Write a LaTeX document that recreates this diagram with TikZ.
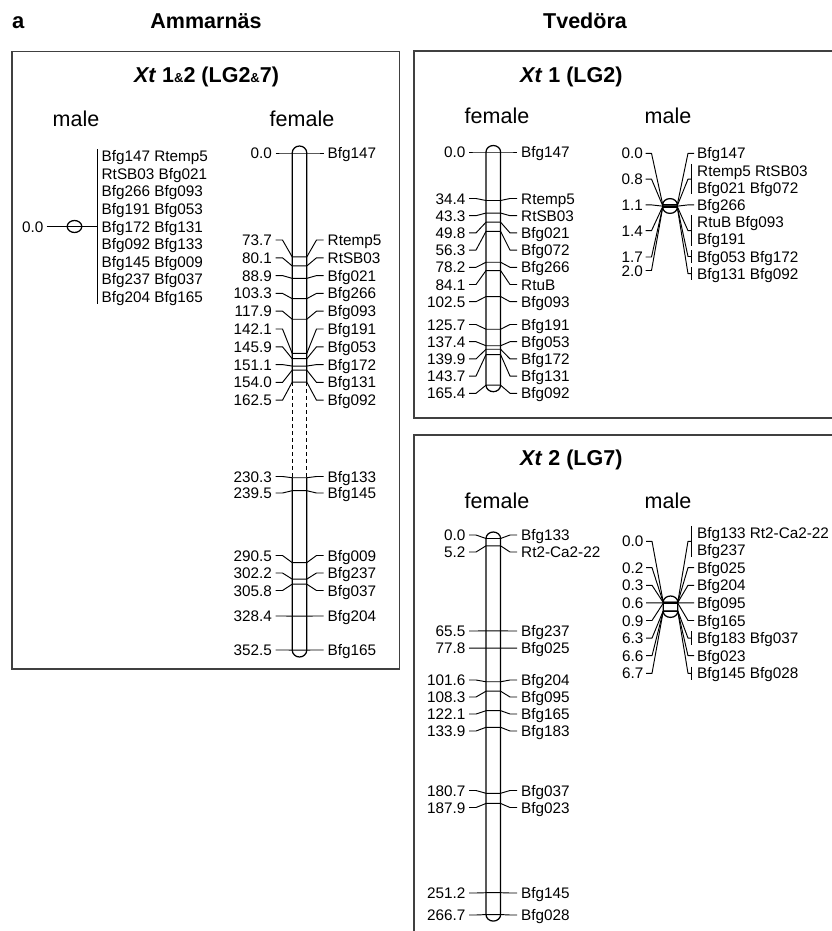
\documentclass[tikz,border=0pt]{standalone}
\usepackage{fontspec}
\setmainfont{Liberation Sans}
\usetikzlibrary{calc}

% chromosome caps: centre x, y of the end marker, cap height
\newcommand{\topcap}[3]{.. controls (#1-7.3,#2-0.55*#3) and (#1-4,#2-#3) .. (#1,#2-#3) .. controls (#1+4,#2-#3) and (#1+7.3,#2-0.55*#3) .. (#1+7.3,#2)}
\newcommand{\botcap}[3]{.. controls (#1+7.3,#2+0.55*#3) and (#1+4,#2+#3) .. (#1,#2+#3) .. controls (#1-4,#2+#3) and (#1-7.3,#2+0.55*#3) .. (#1-7.3,#2)}
\newcommand{\chromo}[4]{\draw[chrom] (#1-7.3,#3) -- (#1-7.3,#2) \topcap{#1}{#2}{#4} -- (#1+7.3,#3) \botcap{#1}{#3}{#4} -- cycle;}
\newcommand{\smallamp}{{\fontsize{13}{13}\selectfont\&}}

\tikzset{
  num/.style={font=\fontsize{15.3}{17}\selectfont, inner xsep=0pt, inner ysep=1pt, text height=11pt, text depth=0pt},
  loc/.style={num},
  ttl/.style={font=\fontsize{21.5}{24}\selectfont\bfseries, inner sep=0pt, anchor=base},
  sex/.style={font=\fontsize{21.5}{24}\selectfont, inner sep=0pt, anchor=base},
  chrom/.style={line width=1.25pt, line join=round},
  link/.style={line width=0.95pt, line join=round},
  frame/.style={line width=1.4pt, draw=black!75}
}

\begin{document}
\begin{tikzpicture}[x=1pt,y=-1pt]
\useasboundingbox (0,0) rectangle (832,931);

% headings and frames
\node[ttl, anchor=base west, font=\fontsize{22}{24}\selectfont\bfseries] (pa) at (12,28.3) {a};
\node[ttl] (amm) at (206,28.3) {Ammarnäs};
\node[ttl] (tve) at (585,28.3) {Tvedöra};
\draw[frame] (12,51.5) rectangle (399.5,669);
\draw[frame] (832,51) -- (414,51) -- (414,418) -- (832,418);
\draw[frame] (832,435) -- (414,435) -- (414,931);
\node[ttl] (t12) at (206.5,82.5) {\textit{Xt} 1\smallamp2 (LG2\smallamp7)};
\node[ttl, anchor=base west] (t1) at (520,82.5) {\textit{Xt} 1 (LG2)};
\node[ttl, anchor=base west] (t2) at (520,465) {\textit{Xt} 2 (LG7)};
\node[sex] (m12) at (76,127) {male};
\node[sex] (f12) at (302,127) {female};
\node[sex] (f1) at (497,124) {female};
\node[sex] (m1) at (668,124) {male};
\node[sex] (f2) at (497,508) {female};
\node[sex] (m2) at (668,508) {male};

% Ammarnas male
\chromo{74.5}{226.5}{226.5}{6}
\node[num, anchor=east] (am0) at (43.5,226.5) {0.0};
\foreach \nm [count=\i] in {Bfg147 Rtemp5, RtSB03 Bfg021, Bfg266 Bfg093, Bfg191 Bfg053, Bfg172 Bfg131, Bfg092 Bfg133, Bfg145 Bfg009, Bfg237 Bfg037, Bfg204 Bfg165}
  \node[loc, anchor=west] (amr\i) at (101.5,{226.5+17.6*(\i-5)}) {\nm};
\draw[link] ([xshift=-4.5pt]amr1.north west) -- ([xshift=-4.5pt]amr9.south west);
\draw[link] ([xshift=3pt]am0.east) -- ([xshift=-4.5pt]amr5.west);

% Ammarnas female
\draw[chrom] (292.2,382.1) -- (292.2,153) \topcap{299.5}{153}{7} -- (306.8,382.1);
\draw[chrom, dash pattern=on 4pt off 3pt] (292.2,382.1) -- (292.2,477.7) (306.8,382.1) -- (306.8,477.7);
\draw[chrom] (306.8,477.7) -- (306.8,650) \botcap{299.5}{650}{7} -- (292.2,477.7);
\foreach \cm/\ly/\nm [count=\i] in {0.0/153/Bfg147, 73.7/240/Rtemp5, 80.1/257.8/RtSB03, 88.9/275.6/Bfg021, 103.3/293.4/Bfg266, 117.9/311.2/Bfg093, 142.1/329/Bfg191, 145.9/346.8/Bfg053, 151.1/364.6/Bfg172, 154.0/382.4/Bfg131, 162.5/400.2/Bfg092, 230.3/476.5/Bfg133, 239.5/493/Bfg145, 290.5/555.5/Bfg009, 302.2/573/Bfg237, 305.8/590.5/Bfg037, 328.4/616/Bfg204, 352.5/650/Bfg165}{
  \node[num, anchor=east] (afl\i) at (272,\ly) {\cm};
  \node[loc, anchor=west] (afr\i) at (327.5,\ly) {\nm};
  \draw[link] ([xshift=3.5pt]afl\i.east) -- ++(7,0) -- (292.2,153+1.41*\cm) -- (306.8,153+1.41*\cm) -- ([xshift=-11pt]afr\i.west) -- ++(7,0);
}

% Tvedora LG2 female
\chromo{493.3}{152}{385.2}{6.5}
\foreach \cm/\ly/\nm [count=\i] in {0.0/152/Bfg147, 34.4/198.5/Rtemp5, 43.3/215.7/RtSB03, 49.8/232.9/Bfg021, 56.3/250.1/Bfg072, 78.2/267.3/Bfg266, 84.1/284.5/RtuB, 102.5/301.7/Bfg093, 125.7/324.5/Bfg191, 137.4/341.7/Bfg053, 139.9/358.9/Bfg172, 143.7/376.1/Bfg131, 165.4/393.3/Bfg092}{
  \node[num, anchor=east] (tfl\i) at (465.5,\ly) {\cm};
  \node[loc, anchor=west] (tfr\i) at (521,\ly) {\nm};
  \draw[link] ([xshift=3.5pt]tfl\i.east) -- ++(7,0) -- (486,152+1.41*\cm) -- (500.6,152+1.41*\cm) -- ([xshift=-11pt]tfr\i.west) -- ++(7,0);
}

% Tvedora LG2 male
\chromo{670}{204.6}{207.4}{6}
\foreach \cm/\ly [count=\i] in {0.0/153.3, 0.8/179.1, 1.1/204.9, 1.4/230.7, 1.7/257, 2.0/270.5}{
  \node[num, anchor=east] (tml\i) at (643,\ly) {\cm};
  \draw[link] ([xshift=2.5pt]tml\i.east) -- ++(6,0) -- (662.7,204.6+1.41*\cm) -- (677.3,204.6+1.41*\cm);
}
\foreach \ry/\nm [count=\i] in {153.3/Bfg147, 170.5/Rtemp5 RtSB03, 187.7/Bfg021 Bfg072, 204.9/Bfg266, 222.1/RtuB Bfg093, 239.3/Bfg191, 256.5/Bfg053 Bfg172, 273.7/Bfg131 Bfg092}
  \node[loc, anchor=west] (tmr\i) at (697,\ry) {\nm};
\foreach \cm/\i in {0.0/1, 1.1/4}
  \draw[link] (677.3,204.6+1.41*\cm) -- ([xshift=-9pt]tmr\i.west) -- ([xshift=-3pt]tmr\i.west);
\foreach \cm/\a/\b in {0.8/2/3, 1.4/5/6, 1.7/7/7, 2.0/8/8}{
  \draw[link] ([xshift=-5.5pt]tmr\a.north west) -- ([xshift=-5.5pt]tmr\b.south west);
  \draw[link] (677.3,204.6+1.41*\cm) -- ($(tmr\a.west)!.5!(tmr\b.west)+(-9,0)$) -- ++(3.5,0);
}

% Tvedora LG7 female
\chromo{493.3}{538.5}{914.6}{6.5}
\foreach \cm/\ly/\nm [count=\i] in {0.0/535/Bfg133, 5.2/552/Rt2-Ca2-22, 65.5/631/Bfg237, 77.8/648.2/Bfg025, 101.6/680/Bfg204, 108.3/697/Bfg095, 122.1/714/Bfg165, 133.9/731/Bfg183, 180.7/790.5/Bfg037, 187.9/807.5/Bfg023, 251.2/893/Bfg145, 266.7/915/Bfg028}{
  \node[num, anchor=east] (sfl\i) at (465.5,\ly) {\cm};
  \node[loc, anchor=west] (sfr\i) at (521,\ly) {\nm};
  \draw[link] ([xshift=3.5pt]sfl\i.east) -- ++(7,0) -- (486,538.5+1.41*\cm) -- (500.6,538.5+1.41*\cm) -- ([xshift=-11pt]sfr\i.west) -- ++(7,0);
}

% Tvedora LG7 male
\chromo{670.5}{602}{611.4}{6}
\foreach \cm/\ly [count=\i] in {0.0/541.3, 0.2/567.7, 0.3/585.3, 0.6/602.9, 0.9/620.5, 6.3/638.1, 6.6/655.7, 6.7/673.3}{
  \node[num, anchor=east] (sml\i) at (643.5,\ly) {\cm};
  \draw[link] ([xshift=2.5pt]sml\i.east) -- ++(6,0) -- (663.2,602+1.41*\cm) -- (677.8,602+1.41*\cm);
}
\foreach \ry/\nm [count=\i] in {532.5/Bfg133 Rt2-Ca2-22, 550.1/Bfg237, 567.7/Bfg025, 585.3/Bfg204, 602.9/Bfg095, 620.5/Bfg165, 638.1/Bfg183 Bfg037, 655.7/Bfg023, 673.3/Bfg145 Bfg028}
  \node[loc, anchor=west] (smr\i) at (697,\ry) {\nm};
\foreach \cm/\i in {0.2/3, 0.3/4, 0.6/5, 0.9/6, 6.6/8}
  \draw[link] (677.8,602+1.41*\cm) -- ([xshift=-9pt]smr\i.west) -- ([xshift=-3pt]smr\i.west);
\foreach \cm/\a/\b in {0.0/1/2, 6.3/7/7, 6.7/9/9}{
  \draw[link] ([xshift=-5.5pt]smr\a.north west) -- ([xshift=-5.5pt]smr\b.south west);
  \draw[link] (677.8,602+1.41*\cm) -- ($(smr\a.west)!.5!(smr\b.west)+(-9,0)$) -- ++(3.5,0);
}
\end{tikzpicture}
\end{document}
